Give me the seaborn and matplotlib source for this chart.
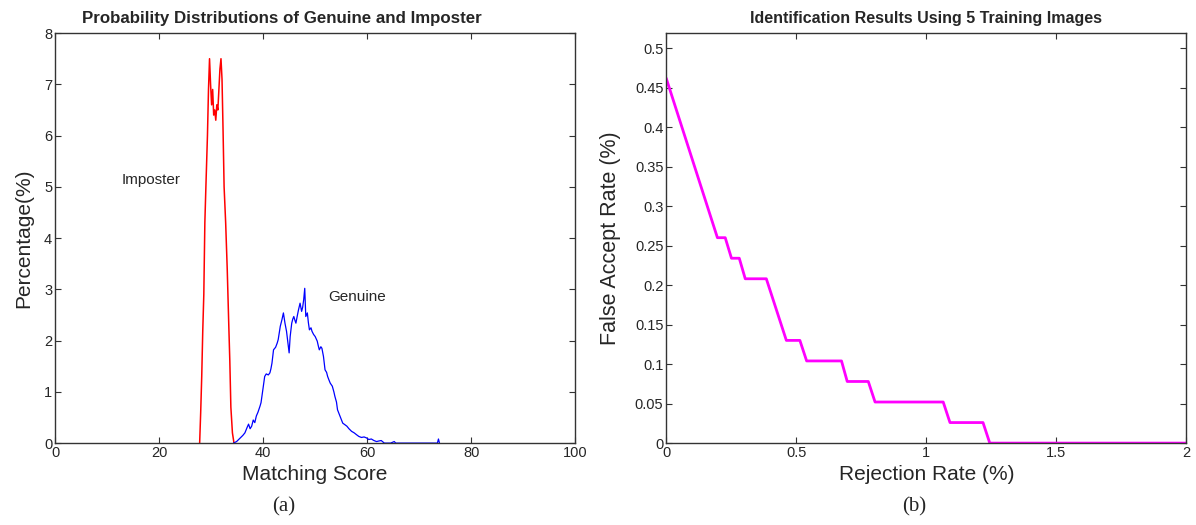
import matplotlib
matplotlib.use("Agg")
import matplotlib.pyplot as plt
import seaborn as sns
import pandas as pd

# imposter score distribution (red)
imp_score = [27.8, 28.0, 28.2, 28.4, 28.6, 28.8, 29.0, 29.3, 29.5, 29.7, 29.9,
             30.1, 30.3, 30.5, 30.7, 30.9, 31.1, 31.3, 31.5, 31.7, 31.9, 32.1,
             32.3, 32.5, 32.8, 33.1, 33.4, 33.6, 33.8, 34.1, 34.4]
imp_pct = [0.0, 0.6, 1.3, 2.2, 2.9, 4.3, 5.0, 6.0, 6.9, 7.5, 7.0,
           6.6, 6.9, 6.4, 6.5, 6.3, 6.6, 6.5, 6.9, 7.3, 7.5, 7.1,
           6.1, 5.0, 4.3, 3.4, 2.3, 1.6, 0.7, 0.2, 0.0]

# genuine score distribution (blue)
gen_score = [34.3, 34.9, 35.6, 36.1, 36.5, 36.9, 37.2, 37.5, 37.8, 38.1, 38.4,
             38.7, 39.0, 39.2, 39.4, 39.6, 40.0, 40.3, 40.6, 41.0, 41.3, 41.5,
             41.7, 42.0, 42.4, 42.7, 42.9, 43.1, 43.3, 43.6, 43.9, 44.2, 44.5,
             45.0, 45.2, 45.5, 45.7, 45.9, 46.1, 46.3, 46.6, 46.8, 47.1, 47.4,
             47.6, 47.8, 48.0, 48.2, 48.5, 48.7, 48.9, 49.2, 49.4, 49.7, 50.0,
             50.4, 50.6, 50.8, 51.1, 51.3, 51.6, 51.9, 52.2, 52.4, 52.7, 52.9,
             53.3, 53.6, 53.8, 54.1, 54.3, 54.8, 55.3, 55.7, 56.1, 56.5, 57.0,
             57.5, 58.0, 58.4, 58.9, 59.4, 59.9, 60.3, 60.8, 61.3, 61.8, 62.2,
             62.7, 63.3, 64.5, 65.2, 65.5, 73.5, 73.7, 73.9]
gen_pct = [0.0, 0.03, 0.1, 0.15, 0.2, 0.3, 0.37, 0.28, 0.33, 0.45, 0.4,
           0.53, 0.6, 0.66, 0.72, 0.79, 1.08, 1.3, 1.35, 1.33, 1.37, 1.45,
           1.56, 1.82, 1.87, 1.95, 2.02, 2.15, 2.28, 2.4, 2.54, 2.34, 2.18,
           1.76, 2.08, 2.34, 2.42, 2.47, 2.4, 2.34, 2.5, 2.6, 2.73, 2.57,
           2.65, 2.8, 3.02, 2.47, 2.54, 2.35, 2.21, 2.25, 2.18, 2.12, 2.08,
           1.99, 1.9, 1.82, 1.88, 1.85, 1.69, 1.43, 1.38, 1.30, 1.22, 1.17,
           1.11, 1.0, 0.91, 0.8, 0.65, 0.52, 0.39, 0.36, 0.33, 0.28, 0.23,
           0.2, 0.16, 0.13, 0.11, 0.12, 0.10, 0.07, 0.08, 0.05, 0.03, 0.04,
           0.05, 0.0, 0.0, 0.03, 0.0, 0.0, 0.08, 0.0]

# false accept vs rejection rate (magenta)
rej_rate = [0.0, 0.197, 0.227, 0.251, 0.281, 0.304, 0.385, 0.462, 0.514, 0.540,
            0.674, 0.696, 0.777, 0.803, 1.065, 1.091, 1.218, 1.244, 2.0]
far_rate = [0.462, 0.260, 0.260, 0.234, 0.234, 0.208, 0.208, 0.130, 0.130, 0.104,
            0.104, 0.078, 0.078, 0.052, 0.052, 0.026, 0.026, 0.0, 0.0]

sns.set_theme(style="ticks")
plt.rcParams['font.family'] = ['Liberation Sans', 'DejaVu Sans']
plt.rcParams['xtick.direction'] = 'in'
plt.rcParams['ytick.direction'] = 'in'
plt.rcParams['xtick.top'] = True
plt.rcParams['ytick.right'] = True

fig = plt.figure(figsize=(11.96, 5.25), dpi=100)
ax1 = fig.add_axes([0.046, 0.156, 0.435, 0.781])
ax2 = fig.add_axes([0.557, 0.156, 0.435, 0.781])

imp = pd.DataFrame({'score': imp_score, 'pct': imp_pct})
gen = pd.DataFrame({'score': gen_score, 'pct': gen_pct})
sns.lineplot(data=imp, x='score', y='pct', ax=ax1, color='red', lw=1.1, sort=False)
sns.lineplot(data=gen, x='score', y='pct', ax=ax1, color='blue', lw=0.9, sort=False)
ax1.set_xlim(0, 100)
ax1.set_ylim(0, 8)
ax1.set_xticks([0, 20, 40, 60, 80, 100])
ax1.set_yticks(range(0, 9))
ax1.set_xlabel('Matching Score', fontsize=15, labelpad=4)
ax1.set_ylabel('Percentage(%)', fontsize=15, labelpad=8)
ax1.set_title('Probability Distributions of Genuine and Imposter',
              fontsize=12.2, fontweight='bold', pad=7, x=0.437)
ax1.text(18.5, 5.13, 'Imposter', fontsize=11, ha='center', va='center')
ax1.text(58, 2.85, 'Genuine', fontsize=11, ha='center', va='center')

far = pd.DataFrame({'rej': rej_rate, 'far': far_rate})
sns.lineplot(data=far, x='rej', y='far', ax=ax2, color='magenta', lw=2, sort=False)
ax2.set_xlim(0, 2)
ax2.set_ylim(0, 0.519)
ax2.set_xticks([0, 0.5, 1, 1.5, 2])
ax2.set_xticklabels(['0', '0.5', '1', '1.5', '2'])
ax2.set_yticks([0, 0.05, 0.1, 0.15, 0.2, 0.25, 0.3, 0.35, 0.4, 0.45, 0.5])
ax2.set_yticklabels(['0', '0.05', '0.1', '0.15', '0.2', '0.25', '0.3', '0.35',
                     '0.4', '0.45', '0.5'])
ax2.set_xlabel('Rejection Rate (%)', fontsize=15, labelpad=4)
ax2.set_ylabel('False Accept Rate (%)', fontsize=15.5, labelpad=10)
ax2.set_title('Identification Results Using 5 Training Images',
              fontsize=11.5, fontweight='bold', pad=7)

for ax in (ax1, ax2):
    ax.tick_params(labelsize=10.5, length=4, width=0.8, color='#333333', pad=2)
    for s in ax.spines.values():
        s.set_color('#333333')
        s.set_linewidth(1)

fig.text(0.237, 0.035, '(a)', fontsize=15, family=['Liberation Serif', 'DejaVu Serif'],
         ha='center', va='center')
fig.text(0.764, 0.035, '(b)', fontsize=15, family=['Liberation Serif', 'DejaVu Serif'],
         ha='center', va='center')

fig.savefig('out.png', dpi=100)
